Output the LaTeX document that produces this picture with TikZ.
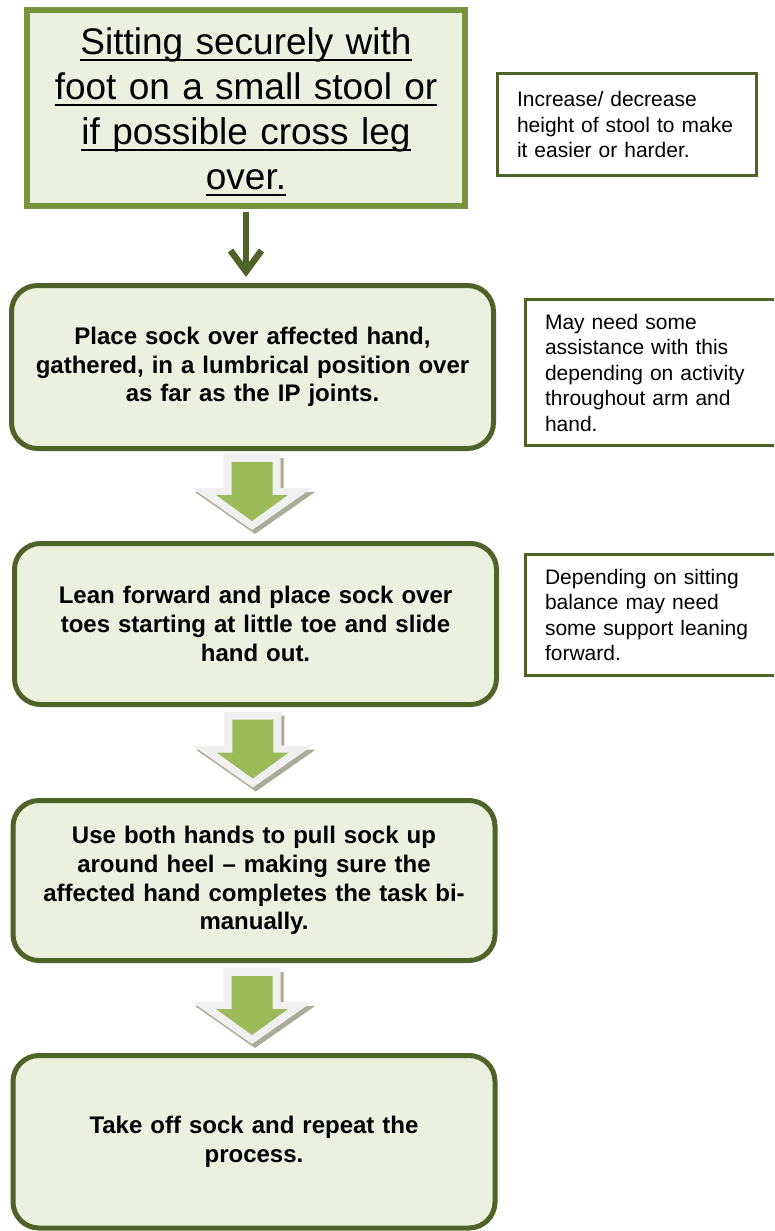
\documentclass[tikz,border=0pt]{standalone}
\usepackage{fontspec}
\setmainfont{Liberation Sans}
\usetikzlibrary{arrows.meta,calc}

\definecolor{boxfill}{HTML}{EBF1DE}
\definecolor{darkolive}{HTML}{4F6228}
\definecolor{olive}{HTML}{77933C}
\definecolor{leaf}{HTML}{9BBB59}
\definecolor{arrowrim}{HTML}{F0F0F0}
\definecolor{arrowshade}{HTML}{A7AD96}

% underline at a fixed depth below the baseline
\newcommand\ulined[1]{\leavevmode\setbox0\hbox{#1}\rlap{\rule[-7pt]{\wd0}{2.5pt}}\box0}

\tikzset{
  blockarrow/.pic={
    \fill[arrowshade] (-25.5,4) -- (31.5,4) -- (31.5,38) -- (63,38) -- (3,80) -- (-57,38) -- (-25.5,38) -- cycle;
    \fill[arrowrim] (-28.5,0) -- (28.5,0) -- (28.5,34) -- (60,34) -- (0,76) -- (-60,34) -- (-28.5,34) -- cycle;
    \fill[leaf] (-20.5,8) -- (20.5,8) -- (20.5,41) -- (36,41) -- (0,67) -- (-36,41) -- (-20.5,41) -- cycle;
  }
}

\begin{document}
\begin{tikzpicture}[x=1pt,y=-1pt,
  topbox/.style={draw=olive, line width=6pt, fill=boxfill, minimum width=438pt, minimum height=196pt, inner sep=0pt},
  toptext/.style={font=\fontsize{37}{45}\selectfont, align=center, text width=430pt, inner sep=0pt},
  stepbox/.style={draw=darkolive, line width=5pt, fill=boxfill, rounded corners=26pt, minimum width=482pt,
                  align=center, text width=466pt, inner sep=0pt, font=\bfseries\fontsize{24}{28.7}\selectfont},
  notebox/.style={draw=darkolive, line width=3pt, fill=white, inner xsep=19.5pt, inner ysep=0pt,
                  align=left, font=\fontsize{21}{25.5}\selectfont},
  conn/.style={draw=darkolive, line width=6.5pt, -{Straight Barb[length=21pt,width=31pt]}},
]
\fill[white] (0,0) rectangle (774,1231);
\clip (0,0) rectangle (774,1231);

% main column
\node[topbox] (b1) at (246,108) {};
\node[toptext] (t1) at (246,112) {\ulined{Sitting securely with}\\\ulined{foot on a small stool or}\\\ulined{if possible cross leg}\\\ulined{over.}};

\node[stepbox, minimum height=163pt] (b2) at (252.5,367) {Place sock over affected hand,\\gathered, in a lumbrical position over\\as far as the IP joints.};
\node[stepbox, minimum height=161pt] (b3) at (255.5,624) {Lean forward and place sock over\\toes starting at little toe and slide\\hand out.};
\node[stepbox, minimum height=160pt] (b4) at (254,880.5) {Use both hands to pull sock up\\around heel -- making sure the\\affected hand completes the task bi-\\manually.};
\node[stepbox, minimum height=172.5pt] (b5) at (254,1141.75) {Take off sock and repeat the\\process.};

% side notes
\node[notebox, minimum width=259pt, minimum height=102pt, text width=220pt] (n1) at (627,124.5)
  {Increase/ decrease\\height of stool to make\\it easier or harder.};
\node[notebox, minimum width=264.5pt, minimum height=146pt, text width=225.5pt] (n2) at (657.75,372.5)
  {May need some\\assistance with this\\depending on activity\\throughout arm and\\hand.};
\node[notebox, minimum width=264.5pt, minimum height=121pt, text width=225.5pt] (n3) at (657.75,615)
  {Depending on sitting\\balance may need\\some support leaning\\forward.};

% connectors
\draw[conn, shorten <=3pt, shorten >=6pt] (b1.south) -- (b1.south |- b2.north);
\pic at ($(b2.south)!0.5!(b3.north)+(-2,-42)$) {blockarrow};
\pic at ($(b3.south)!0.5!(b4.north)+(-2,-41)$) {blockarrow};
\pic at ($(b4.south)!0.5!(b5.north)+(-2,-40)$) {blockarrow};
\end{tikzpicture}
\end{document}
